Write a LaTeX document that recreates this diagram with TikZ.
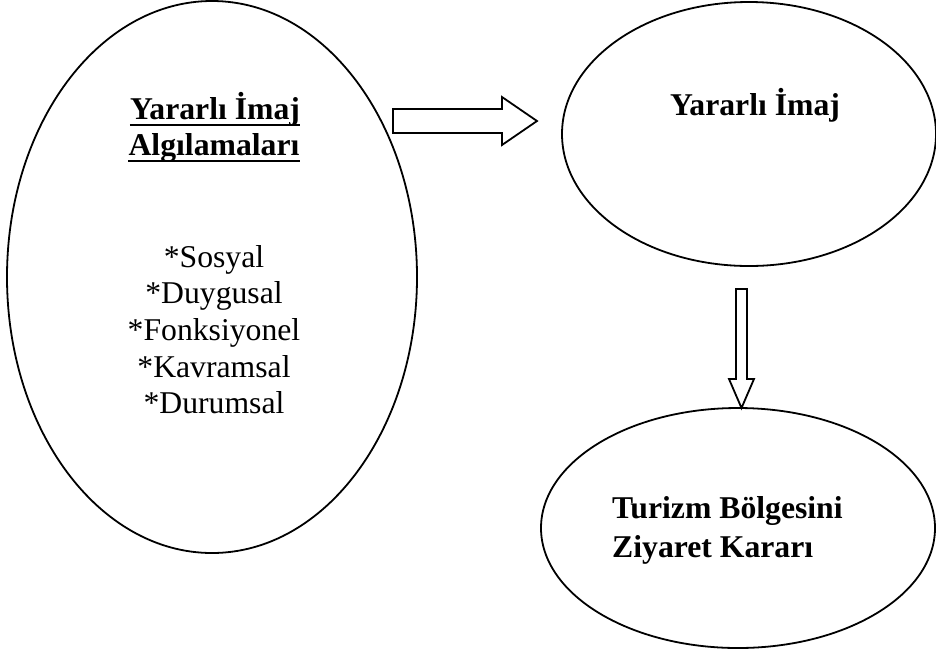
\documentclass[tikz,border=0pt]{standalone}
\usepackage{fontspec}
\setmainfont{Liberation Serif}
\usetikzlibrary{shapes.geometric,calc}
\begin{document}
\begin{tikzpicture}[x=1pt,y=-1pt,
  oval/.style={ellipse,draw=black,line width=1.8pt,inner sep=0pt},
  blockarrow/.style={draw=black,fill=white,line width=1.8pt,line join=miter},
  lbl/.style={inner sep=0pt,font=\fontsize{31.7}{36.6}\selectfont},
  headlbl/.style={inner sep=0pt,font=\fontsize{31.7}{36.6}\selectfont\bfseries}]
\useasboundingbox (0,0) rectangle (936,649);
\fill[white] (0,0) rectangle (936,649);

% ovals
\node[oval,minimum width=410pt,minimum height=552pt] (perc) at (212,277) {};
\node[oval,minimum width=374pt,minimum height=264pt] (image) at (749,134) {};
\node[oval,minimum width=394pt,minimum height=240pt] (visit) at (738,528) {};

% left oval: heading and list
\node[headlbl,anchor=base] (h1) at (215,119) {Yararlı İmaj};
\node[headlbl,anchor=base] (h2) at (214,155) {Algılamaları};
\draw[line width=2pt] ([yshift=-5.5pt]h1.base west) -- ([yshift=-5.5pt]h1.base east);
\draw[line width=2pt] ([yshift=-5.5pt]h2.base west) -- ([yshift=-5.5pt]h2.base east);
\node[lbl,anchor=base] (i1) at (214,267) {*Sosyal};
\node[lbl,anchor=base] (i2) at (214,303) {*Duygusal};
\node[lbl,anchor=base] (i3) at (214,340) {*Fonksiyonel};
\node[lbl,anchor=base] (i4) at (214,377) {*Kavramsal};
\node[lbl,anchor=base] (i5) at (214,413) {*Durumsal};

% upper right oval
\node[headlbl,anchor=base] (t1) at (755,115) {Yararlı İmaj};

% lower right oval
\node[headlbl,anchor=base west] (d1) at (612,518) {Turizm Bölgesini};
\node[headlbl,anchor=base west] (d2) at (612,557) {Ziyaret Kararı};

% block arrow: perceptions -> image
\coordinate (ra) at (393,121);
\coordinate (rb) at (537,121);
\draw[blockarrow] ($(ra)+(0,-12)$) -- ($(rb)+(-35,-12)$) -- ($(rb)+(-35,-24)$)
  -- (rb) -- ($(rb)+(-35,24)$) -- ($(rb)+(-35,12)$) -- ($(ra)+(0,12)$) -- cycle;

% block arrow: image -> visit decision
\coordinate (da) at (741.5,289);
\coordinate (db) at (741.5,408);
\draw[blockarrow] ($(da)+(-5.5,0)$) -- ($(da)+(5.5,0)$) -- ($(db)+(5.5,-29)$)
  -- ($(db)+(12.5,-29)$) -- (db) -- ($(db)+(-12.5,-29)$) -- ($(db)+(-5.5,-29)$) -- cycle;
\end{tikzpicture}
\end{document}
